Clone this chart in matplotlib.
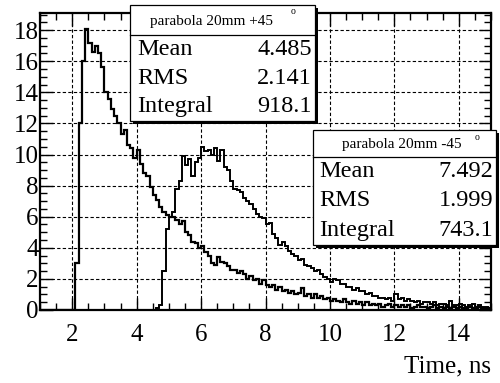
import numpy as np
import matplotlib
matplotlib.use("Agg")
import matplotlib.pyplot as plt
from matplotlib.patches import Rectangle
from matplotlib.lines import Line2D

# --- data: two time histograms, 0.1 ns bins from 1 to 15 ns ---
x_lo, x_hi, n_bins = 1.0, 15.0, 140

hist_plus45 = [
    0, 0, 0, 0, 0, 0, 0, 0, 0, 0,                                  # 1-2
    0, 3.0, 12.0, 16.0, 18.1, 17.2, 16.6, 17.0, 16.5, 15.6,        # 2-3
    14.0, 13.6, 12.9, 12.5, 12.0, 11.3, 11.6, 10.6, 10.4, 9.8,     # 3-4
    10.3, 9.4, 8.8, 8.6, 7.9, 7.4, 7.1, 6.6, 6.3, 6.1,             # 4-5
    6.0, 6.0, 5.8, 5.5, 5.7, 5.0, 4.8, 4.4, 4.3, 4.0,              # 5-6
    4.1, 3.7, 3.5, 3.0, 2.9, 3.4, 3.1, 3.0, 2.8, 2.6,              # 6-7
    2.6, 2.4, 2.5, 2.3, 2.0, 2.2, 1.9, 2.0, 1.7, 1.9,              # 7-8
    1.6, 1.5, 1.6, 1.3, 1.5, 1.2, 1.3, 1.1, 1.2, 1.0,              # 8-9
    1.1, 1.4, 0.9, 1.0, 0.8, 1.0, 0.8, 0.9, 0.7, 0.8,              # 9-10
    0.6, 0.7, 0.6, 0.5, 0.7, 0.5, 0.4, 0.6, 0.4, 0.5,              # 10-11
    0.3, 0.5, 0.3, 0.4, 0.3, 0.4, 0.2, 0.3, 0.4, 0.2,              # 11-12
    0.3, 0.2, 0.3, 0.2, 0.3, 0.1, 0.2, 0.3, 0.2, 0.2,              # 12-13
    0.1, 0.2, 0.3, 0.1, 0.2, 0.1, 0.2, 0.1, 0.2, 0.1,              # 13-14
    0.2, 0.1, 0.1, 0.2, 0.1, 0.1, 0.2, 0.1, 0.1, 0.1,              # 14-15
]

hist_minus45 = [
    0, 0, 0, 0, 0, 0, 0, 0, 0, 0,                                  # 1-2
    0, 0, 0, 0, 0, 0, 0, 0, 0, 0,                                  # 2-3
    0, 0, 0, 0, 0, 0, 0, 0, 0, 0,                                  # 3-4
    0, 0, 0, 0, 0, 0, 0.1, 0.3, 2.5, 5.2,                          # 4-5
    6.0, 6.3, 7.8, 8.3, 9.9, 9.3, 9.7, 8.6, 9.5, 9.8,              # 5-6
    10.5, 10.2, 10.3, 10.0, 10.4, 9.6, 10.3, 9.2, 9.0, 8.3,        # 6-7
    7.8, 7.7, 7.6, 7.2, 7.0, 6.8, 6.5, 6.2, 6.0, 5.9,              # 7-8
    5.5, 5.6, 4.9, 4.6, 4.2, 4.4, 4.1, 3.8, 3.6, 3.5,              # 8-9
    3.2, 3.3, 2.9, 2.8, 2.7, 2.5, 2.6, 2.3, 2.1, 2.0,              # 9-10
    1.8, 2.0, 1.9, 1.7, 1.7, 1.5, 1.5, 1.3, 1.4, 1.2,              # 10-11
    1.2, 1.0, 1.1, 0.9, 0.9, 0.8, 0.8, 0.7, 0.8, 0.6,              # 11-12
    1.0, 0.7, 0.8, 0.6, 0.7, 0.6, 0.5, 0.6, 0.4, 0.5,              # 12-13
    0.5, 0.4, 0.5, 0.3, 0.4, 0.4, 0.3, 0.6, 0.3, 0.3,              # 13-14
    0.4, 0.3, 0.2, 0.3, 0.4, 0.2, 0.3, 0.2, 0.2, 0.1,              # 14-15
]

x_ticks = [2, 4, 6, 8, 10, 12, 14]
y_ticks = [0, 2, 4, 6, 8, 10, 12, 14, 16, 18]
x_label = "Time, ns"

stats_plus45 = {"title": "parabola 20mm +45",
                "rows": [("Mean", "4.485"), ("RMS", "2.141"), ("Integral", "918.1")]}
stats_minus45 = {"title": "parabola 20mm -45",
                 "rows": [("Mean", "7.492"), ("RMS", "1.999"), ("Integral", "743.1")]}

# --- figure ---
W, H = 500, 383
plt.rcParams["font.family"] = ["Liberation Serif", "DejaVu Serif"]
fig = plt.figure(figsize=(W / 100, H / 100), dpi=100)
ax = fig.add_axes([40 / W, 1 - 310 / H, 451 / W, 297 / H])

edges = np.linspace(x_lo, x_hi, n_bins + 1)
ax.stairs(hist_plus45, edges, color="black", lw=1.6, baseline=None)
ax.stairs(hist_minus45, edges, color="black", lw=1.4, baseline=None)

ax.set_xlim(1.0, 15.0)
ax.set_ylim(0, 19.1)
ax.set_xticks(x_ticks)
ax.set_yticks(y_ticks)
ax.set_xticks(np.arange(1.0, 15.01, 0.5), minor=True)
ax.set_yticks(np.arange(0, 19.1, 0.5), minor=True)
ax.grid(True, which="major", color="black", lw=0.8, linestyle=(0, (3, 2)))
ax.tick_params(which="both", direction="in", top=True, right=True, width=1, labelsize=18)
ax.tick_params(which="major", length=9)
ax.tick_params(which="minor", length=5)
ax.tick_params(axis="y", pad=1)
ax.tick_params(axis="x", pad=10)
for sp in ax.spines.values():
    sp.set_linewidth(1.6)

fig.text(491 / W, 1 - 366 / H, x_label, ha="right", va="center", fontsize=18)


def fx(px):
    return px / W


def fy(py):
    return 1 - py / H


def stats_box(left, top, right, bottom, head_y, stats, title_x, sup_x, sup_y, label_x):
    # shadow first, then the white box on top
    fig.add_artist(Rectangle((fx(left + 3), fy(bottom + 3)), (right - left) / W, (bottom - top) / H,
                             transform=fig.transFigure, facecolor="black", edgecolor="none", zorder=10))
    fig.add_artist(Rectangle((fx(left), fy(bottom)), (right - left) / W, (bottom - top) / H,
                             transform=fig.transFigure, facecolor="white", edgecolor="black",
                             lw=0.9, zorder=11))
    fig.add_artist(Line2D([fx(left), fx(right)], [fy(head_y), fy(head_y)],
                          transform=fig.transFigure, color="black", lw=0.9, zorder=12))
    fig.text(fx(title_x), fy((top + head_y) / 2 + 1), stats["title"], ha="center", va="center",
             fontsize=11, zorder=13)
    fig.text(fx(sup_x), fy(sup_y), "o", ha="center", va="center", fontsize=7, zorder=13)
    row_h = (bottom - head_y) / 3
    for i, (name, val) in enumerate(stats["rows"]):
        yc = head_y + row_h * (i + 0.5)
        fig.text(fx(label_x), fy(yc), name, ha="left", va="center", fontsize=17.5, zorder=13)
        fig.text(fx(right - 3), fy(yc), val, ha="right", va="center", fontsize=17.5, zorder=13)


stats_box(130, 5, 315, 121, 35, stats_plus45, 212, 293, 11, 137)
stats_box(313, 130, 496, 245, 157, stats_minus45, 402, 477, 137, 319)

fig.savefig("out.png", dpi=100)
